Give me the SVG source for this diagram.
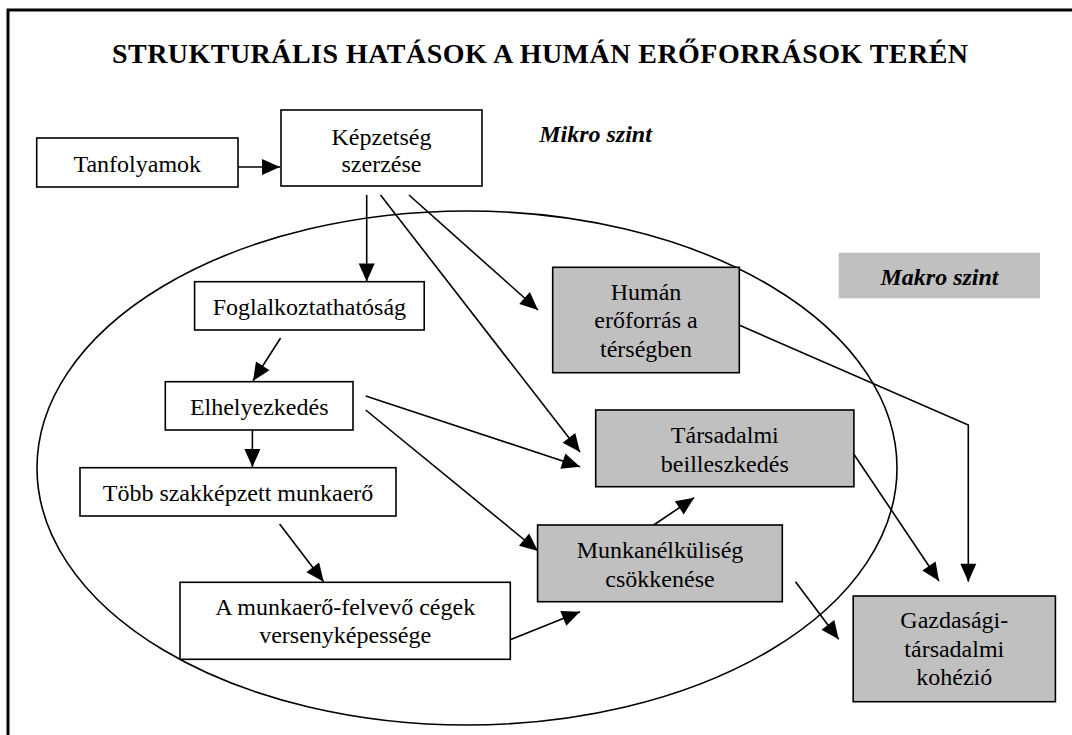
<svg xmlns="http://www.w3.org/2000/svg" width="1072" height="735" viewBox="0 0 1072 735">
  <style>
    .box { stroke: #000; stroke-width: 1.6; }
    .micro { fill: #fff; }
    .macro { fill: #c0c0c0; }
    .lbl { font-family: "Liberation Serif", "Times New Roman", serif; font-size: 24px; fill: #000; text-anchor: middle; }
    .lvl { font-family: "Liberation Serif", "Times New Roman", serif; font-size: 24px; font-weight: bold; font-style: italic; fill: #000; text-anchor: middle; }
    .title { font-family: "Liberation Serif", "Times New Roman", serif; font-size: 28px; font-weight: bold; fill: #000; text-anchor: middle; }
    .conn line, .conn polyline { stroke: #000; stroke-width: 1.6; fill: none; marker-end: url(#head); }
  </style>
  <defs>
    <marker id="head" markerUnits="userSpaceOnUse" markerWidth="18" markerHeight="16" refX="18" refY="8" orient="auto" overflow="visible">
      <path d="M0,0 L18,8 L0,16 Z" fill="#000"/>
    </marker>
  </defs>

  <rect x="0" y="0" width="1072" height="735" fill="#fff"/>

  <!-- page frame -->
  <rect x="8" y="10" width="1100" height="800" fill="none" stroke="#000" stroke-width="3"/>

  <text class="title" x="540" y="63" textLength="856">STRUKTURÁLIS HATÁSOK A HUMÁN ERŐFORRÁSOK TERÉN</text>

  <!-- level labels -->
  <g id="mikro-szint">
    <text class="lvl" x="595.5" y="141.7">Mikro szint</text>
  </g>
  <g id="makro-szint">
    <rect x="838.7" y="252.7" width="201.3" height="45.6" fill="#c0c0c0"/>
    <text class="lvl" x="939.5" y="285">Makro szint</text>
  </g>

  <!-- micro-level region -->
  <ellipse id="mikro-terulet" cx="467" cy="468" rx="430" ry="257" fill="none" stroke="#000" stroke-width="1.6"/>

  <g id="connectors" class="conn">
    <line x1="238" y1="167" x2="280" y2="167"/>
    <line x1="366.7" y1="195" x2="366.7" y2="281.5"/>
    <line x1="380.5" y1="195" x2="580" y2="452"/>
    <line x1="409" y1="195" x2="538" y2="310"/>
    <line x1="280.6" y1="338" x2="253" y2="381"/>
    <line x1="252.4" y1="425" x2="252.4" y2="467"/>
    <line x1="365.7" y1="396" x2="580" y2="466.7"/>
    <line x1="365.7" y1="410" x2="538" y2="551"/>
    <line x1="279.6" y1="524" x2="323.7" y2="581.7"/>
    <line x1="509.6" y1="640" x2="580" y2="611.7"/>
    <line x1="653.7" y1="525" x2="694.2" y2="497.7"/>
    <polyline points="739,325 968.3,425 968.3,581.7"/>
    <line x1="853.2" y1="453.3" x2="939" y2="581"/>
    <line x1="795.5" y1="581.7" x2="838.7" y2="639.3"/>
  </g>

  <g id="tanfolyamok">
    <rect class="box micro" x="36.7" y="138" width="201.3" height="49"/>
    <text class="lbl" x="137.3" y="172.3">Tanfolyamok</text>
  </g>
  <g id="kepzettseg-szerzese">
    <rect class="box micro" x="281" y="110" width="201" height="76"/>
    <text class="lbl" x="381.5" y="145">Képzetség</text>
    <text class="lbl" x="381.5" y="172">szerzése</text>
  </g>
  <g id="foglalkoztathatosag">
    <rect class="box micro" x="194.6" y="281.7" width="229.6" height="48.3"/>
    <text class="lbl" x="309.4" y="315">Foglalkoztathatóság</text>
  </g>
  <g id="elhelyezkedes">
    <rect class="box micro" x="165.3" y="381.7" width="187.7" height="48.3"/>
    <text class="lbl" x="259.2" y="415">Elhelyezkedés</text>
  </g>
  <g id="tobb-szakkepzett-munkaero">
    <rect class="box micro" x="80" y="467.7" width="316" height="48.3"/>
    <text class="lbl" x="238" y="500.7">Több szakképzett munkaerő</text>
  </g>
  <g id="versenykepesseg">
    <rect class="box micro" x="180" y="582.3" width="330.3" height="77"/>
    <text class="lbl" x="345.2" y="615">A munkaerő-felvevő cégek</text>
    <text class="lbl" x="345.2" y="642.7">versenyképessége</text>
  </g>
  <g id="human-eroforras">
    <rect class="box macro" x="552.7" y="267.3" width="186.6" height="105.4"/>
    <text class="lbl" x="646" y="300">Humán</text>
    <text class="lbl" x="646" y="328.3">erőforrás a</text>
    <text class="lbl" x="646" y="356.7">térségben</text>
  </g>
  <g id="tarsadalmi-beilleszkedes">
    <rect class="box macro" x="595.7" y="410" width="258.2" height="76.7"/>
    <text class="lbl" x="724.8" y="443.3">Társadalmi</text>
    <text class="lbl" x="724.8" y="471.7">beilleszkedés</text>
  </g>
  <g id="munkanelkuliseg-csokkenese">
    <rect class="box macro" x="537.6" y="525" width="244.7" height="76.7"/>
    <text class="lbl" x="660" y="558.3">Munkanélküliség</text>
    <text class="lbl" x="660" y="586.7">csökkenése</text>
  </g>
  <g id="gazdasagi-tarsadalmi-kohezio">
    <rect class="box macro" x="853.2" y="596" width="202.2" height="105.7"/>
    <text class="lbl" x="954.3" y="628.3">Gazdasági-</text>
    <text class="lbl" x="954.3" y="656.7">társadalmi</text>
    <text class="lbl" x="954.3" y="685">kohézió</text>
  </g>
</svg>
